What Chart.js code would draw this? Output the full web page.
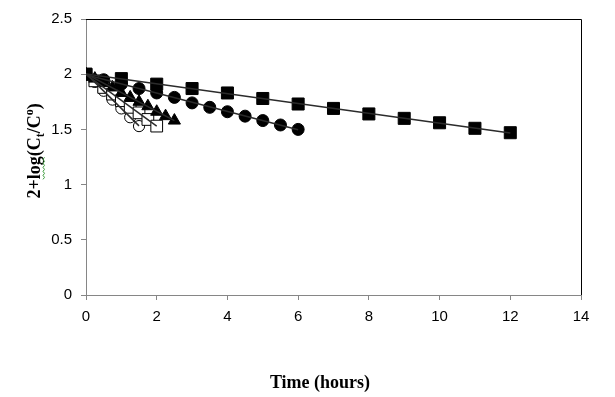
<!DOCTYPE html>
<html>
<head>
<meta charset="utf-8">
<script src="https://cdn.jsdelivr.net/npm/chart.js@4.4.1/dist/chart.umd.min.js"></script>
<style>
  html, body { margin: 0; padding: 0; background: #fff; }
  #wrap { width: 615px; height: 397px; }
</style>
</head>
<body>
<div id="wrap"><canvas id="decayChart" width="615" height="397"></canvas></div>
<script>
// tick values
const xTickValues = [0, 2, 4, 6, 8, 10, 12, 14];
const yTickValues = [0, 0.5, 1, 1.5, 2, 2.5];

// series (hours, 2+log(Ct/Co))
const filledSquareHours = [0, 1, 2, 3, 4, 5, 6, 7, 8, 9, 10, 11, 12];
const filledSquareValues = [2.00, 1.96, 1.91, 1.87, 1.83, 1.78, 1.73, 1.69, 1.64, 1.60, 1.56, 1.51, 1.47];

const filledCircleHours = [0, 0.5, 1, 1.5, 2, 2.5, 3, 3.5, 4, 4.5, 5, 5.5, 6];
const filledCircleValues = [2.00, 1.95, 1.91, 1.87, 1.83, 1.79, 1.74, 1.70, 1.66, 1.62, 1.58, 1.54, 1.50];

const triangleHours = [0, 0.25, 0.5, 0.75, 1, 1.25, 1.5, 1.75, 2, 2.25, 2.5];
const triangleValues = [2.00, 1.96, 1.92, 1.88, 1.83, 1.79, 1.75, 1.71, 1.66, 1.62, 1.58];

const openSquareHours = [0, 0.25, 0.5, 0.75, 1, 1.25, 1.5, 1.75, 2];
const openSquareValues = [2.00, 1.94, 1.88, 1.82, 1.76, 1.70, 1.65, 1.59, 1.53];

const openCircleHours = [0, 0.25, 0.5, 0.75, 1, 1.25, 1.5];
const openCircleValues = [2.00, 1.93, 1.85, 1.77, 1.69, 1.61, 1.53];

const toPoints = (xs, ys) => xs.map((x, i) => ({ x, y: ys[i] }));

// least squares trendline over the range of the series
const trendPoints = (xs, ys) => {
  const n = xs.length;
  const mx = xs.reduce((s, v) => s + v, 0) / n;
  const my = ys.reduce((s, v) => s + v, 0) / n;
  let sxy = 0, sxx = 0;
  xs.forEach((x, i) => { sxy += (x - mx) * (ys[i] - my); sxx += (x - mx) * (x - mx); });
  const b = sxy / sxx;
  const a = my - b * mx;
  const x0 = xs[0], x1 = xs[n - 1];
  return [{ x: x0, y: a + b * x0 }, { x: x1, y: a + b * x1 }];
};

const axisGray = "#868686";
const tickFont = { family: "'Liberation Sans', Arial, sans-serif", size: 15 };
const serifBold = "'Liberation Serif', 'Times New Roman', serif";

const markerSet = (xs, ys, style, radius, filled) => ({
  data: toPoints(xs, ys),
  showLine: false,
  pointStyle: style,
  pointRadius: radius,
  pointHoverRadius: radius,
  pointBackgroundColor: filled ? "#000" : "#fff",
  pointBorderColor: "#000",
  pointBorderWidth: 1,
  order: 2
});

const trendSet = (xs, ys) => ({
  data: trendPoints(xs, ys),
  showLine: true,
  borderColor: "#2b2b2b",
  borderWidth: 1.5,
  pointRadius: 0,
  pointHoverRadius: 0,
  fill: false,
  order: 1
});

const frameAndTitles = {
  id: "frameAndTitles",
  afterDraw(chart) {
    const { ctx, chartArea: a } = chart;
    ctx.save();

    // black border on top and right of the plot area
    ctx.strokeStyle = "#000";
    ctx.lineWidth = 1;
    ctx.beginPath();
    ctx.moveTo(a.left, Math.round(a.top) + 0.5);
    ctx.lineTo(Math.round(a.right) + 0.5, Math.round(a.top) + 0.5);
    ctx.lineTo(Math.round(a.right) + 0.5, a.bottom);
    ctx.stroke();

    // x title
    ctx.fillStyle = "#000";
    ctx.font = "bold 18px " + serifBold;
    ctx.textAlign = "center";
    ctx.textBaseline = "middle";
    ctx.fillText("Time (hours)", 320, 383);

    // y title with subscript t and raised o
    const big = "bold 18px " + serifBold;
    const small = "bold 12px " + serifBold;
    const parts = [
      { text: "2+", font: big, dy: 0 },
      { text: "log", font: big, dy: 0, squiggle: true },
      { text: "(C", font: big, dy: 0 },
      { text: "t", font: small, dy: 4 },
      { text: "/C", font: big, dy: 0 },
      { text: "o", font: small, dy: -7 },
      { text: ")", font: big, dy: 0 }
    ];
    ctx.textAlign = "left";
    ctx.textBaseline = "alphabetic";
    let total = 0;
    parts.forEach((p) => { ctx.font = p.font; p.w = ctx.measureText(p.text).width; total += p.w; });
    ctx.translate(34, 151);
    ctx.rotate(-Math.PI / 2);
    let x = -total / 2;
    const base = 6;
    parts.forEach((p) => {
      ctx.font = p.font;
      ctx.fillStyle = "#000";
      ctx.fillText(p.text, x, base + p.dy);
      if (p.squiggle) {
        ctx.strokeStyle = "#3a9a3a";
        ctx.lineWidth = 1;
        ctx.beginPath();
        for (let s = 0; s <= p.w; s += 2) {
          const yy = base + 3 + ((s / 2) % 2 === 0 ? 0 : 1.5);
          if (s === 0) ctx.moveTo(x + s, yy); else ctx.lineTo(x + s, yy);
        }
        ctx.stroke();
      }
      x += p.w;
    });

    ctx.restore();
  }
};

new Chart(document.getElementById("decayChart"), {
  type: "scatter",
  data: {
    datasets: [
      trendSet(filledSquareHours, filledSquareValues),
      trendSet(filledCircleHours, filledCircleValues),
      trendSet(triangleHours, triangleValues),
      trendSet(openSquareHours, openSquareValues),
      trendSet(openCircleHours, openCircleValues),
      // earlier datasets are painted on top
      markerSet(filledSquareHours, filledSquareValues, "rect", 8.5, true),
      markerSet(filledCircleHours, filledCircleValues, "circle", 6, true),
      markerSet(triangleHours, triangleValues, "triangle", 7, true),
      markerSet(openSquareHours, openSquareValues, "rect", 8.3, false),
      markerSet(openCircleHours, openCircleValues, "circle", 5.6, false)
    ]
  },
  options: {
    responsive: false,
    animation: false,
    layout: {
      padding: { left: 0, right: 34, top: 19, bottom: 0 }
    },
    plugins: {
      legend: { display: false },
      tooltip: { enabled: false }
    },
    scales: {
      x: {
        type: "linear",
        min: 0,
        max: 14,
        afterBuildTicks(scale) {
          scale.ticks = xTickValues.map((value) => ({ value }));
        },
        afterFit(scale) {
          scale.height = 102;
        },
        ticks: {
          color: "#000",
          font: tickFont,
          padding: 8,
          maxRotation: 0,
          callback: (value) => String(value)
        },
        grid: {
          drawOnChartArea: false,
          drawTicks: true,
          tickLength: 5,
          color: axisGray
        },
        border: {
          display: true,
          color: axisGray,
          width: 1
        }
      },
      y: {
        type: "linear",
        min: 0,
        max: 2.5,
        afterBuildTicks(scale) {
          scale.ticks = yTickValues.map((value) => ({ value }));
        },
        afterFit(scale) {
          scale.width = 86;
        },
        ticks: {
          color: "#000",
          font: tickFont,
          padding: 9,
          callback: (value) => String(value)
        },
        grid: {
          drawOnChartArea: false,
          drawTicks: true,
          tickLength: 5,
          color: axisGray
        },
        border: {
          display: true,
          color: axisGray,
          width: 1
        }
      }
    }
  },
  plugins: [frameAndTitles]
});
</script>
</body>
</html>
